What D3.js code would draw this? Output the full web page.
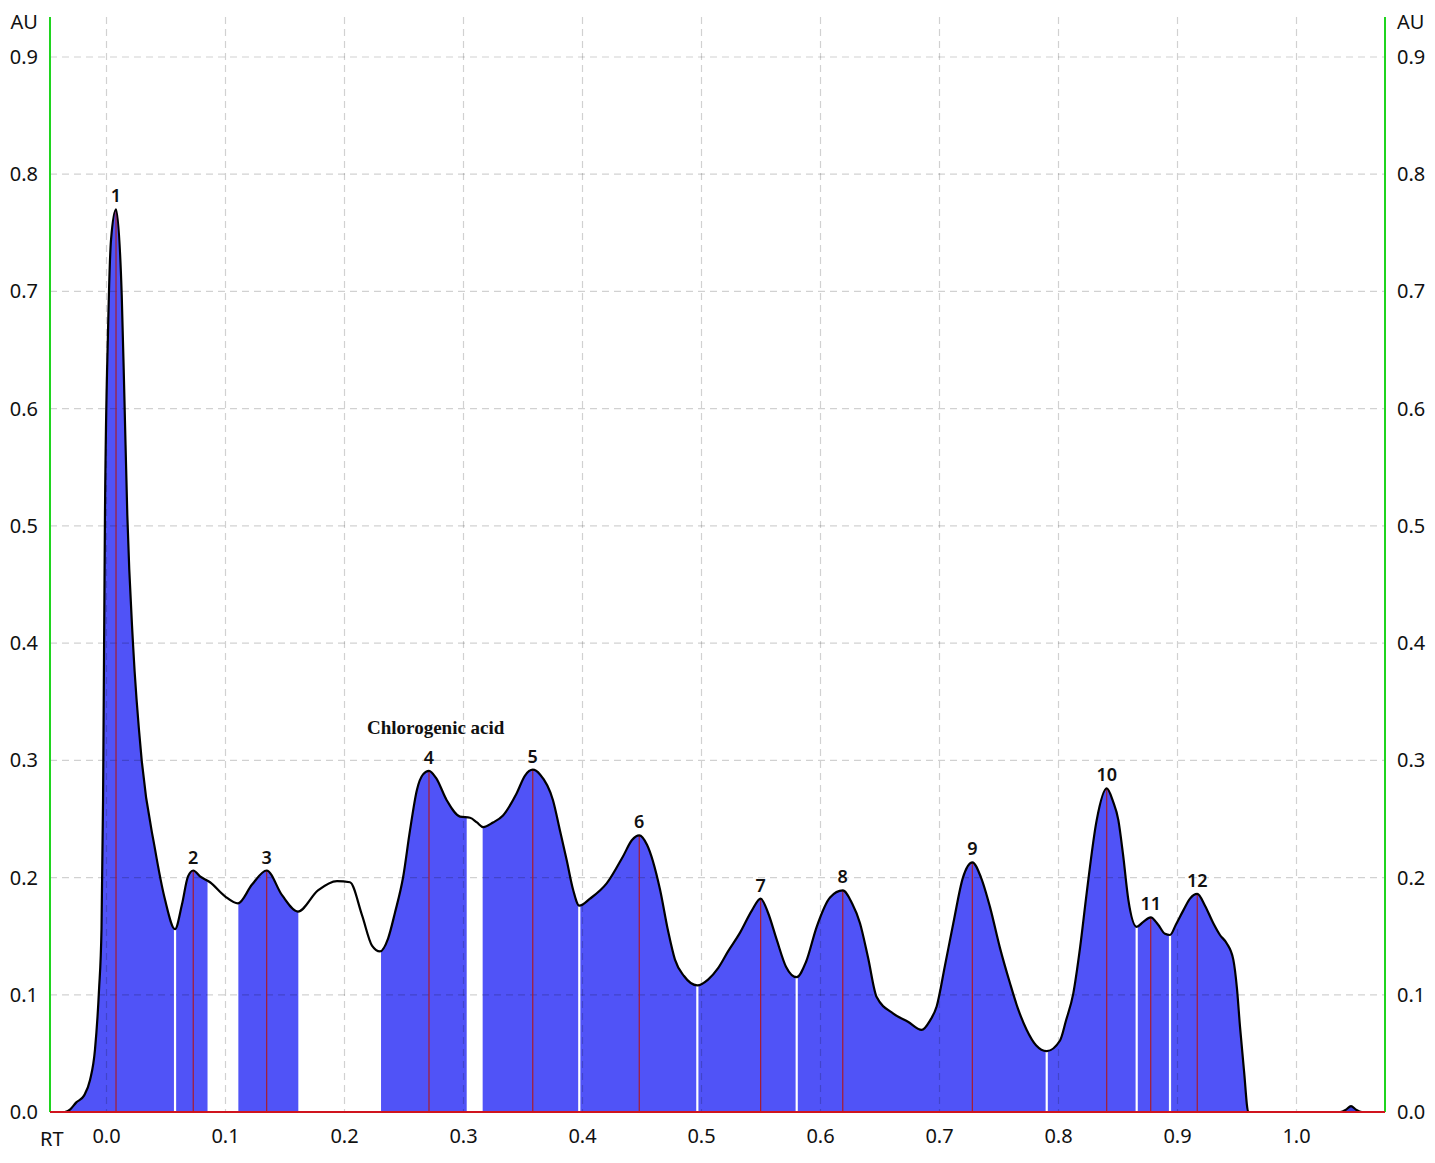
<!DOCTYPE html>
<html>
  <head>
    <meta charset="utf-8" />
    <title>HPLC chromatogram</title>
    <script src="https://d3js.org/d3.v7.min.js"></script>
    <style>
      body {
        margin: 0;
        background: #fff;
      }
      .tick-label {
        font: 20px "Noto Sans", sans-serif;
        fill: #111;
      }
      .peak-label {
        font: 600 18px "Noto Sans", sans-serif;
        fill: #111;
      }
      .compound {
        font: bold 19px "Liberation Serif", "Times New Roman", serif;
        fill: #111;
      }
    </style>
  </head>
  <body>
    <div id="chart"></div>

    <script>
      // Trace of the chromatogram (RT, AU)
      const rt = [
        -0.0349, -0.0307, -0.0256, -0.0189, -0.0139, -0.0097, -0.0063, -0.0042,
        -0.0029, -0.0013, 0.0013, 0.0038, 0.008, 0.0128, 0.0151, 0.0175, 0.0223,
        0.0296, 0.0408, 0.0492, 0.0576, 0.0634, 0.0685, 0.0729, 0.0786, 0.087,
        0.0996, 0.1105, 0.1223, 0.1346, 0.1475, 0.1609, 0.1777, 0.1937, 0.2046,
        0.2147, 0.2231, 0.2298, 0.2366, 0.2424, 0.2492, 0.255, 0.2609, 0.266,
        0.271, 0.2769, 0.2859, 0.2971, 0.3055, 0.3113, 0.3166, 0.3248, 0.3332,
        0.3447, 0.3517, 0.3582, 0.3643, 0.3752, 0.3811, 0.3867, 0.392, 0.3973,
        0.4063, 0.4203, 0.434, 0.4416, 0.4477, 0.4542, 0.4651, 0.4718, 0.4777,
        0.4853, 0.4965, 0.5055, 0.5141, 0.5223, 0.5324, 0.5424, 0.5497, 0.5559,
        0.5632, 0.571, 0.58, 0.5878, 0.5968, 0.608, 0.6187, 0.6265, 0.6332,
        0.6399, 0.6472, 0.6612, 0.6735, 0.685, 0.692, 0.6976, 0.7046, 0.7116,
        0.7197, 0.7276, 0.7349, 0.7424, 0.7508, 0.7592, 0.766, 0.7733, 0.7811,
        0.7901, 0.8013, 0.8063, 0.8124, 0.8181, 0.8237, 0.8321, 0.8405, 0.8458,
        0.8503, 0.8542, 0.8587, 0.8657, 0.871, 0.8775, 0.8836, 0.8895, 0.8937,
        0.8987, 0.9049, 0.9105, 0.9166, 0.9231, 0.9301, 0.9357, 0.9413, 0.9469,
        0.95, 0.9525, 0.9559, 0.9595, 1.0366, 1.0416, 1.0458, 1.05, 1.055, 1.0744,
      ];
      const au = [
        0, 0.002, 0.008, 0.014, 0.027, 0.053, 0.104, 0.156, 0.266, 0.509, 0.667,
        0.744, 0.77, 0.697, 0.607, 0.509, 0.399, 0.3, 0.224, 0.181, 0.156, 0.177,
        0.201, 0.206, 0.201, 0.196, 0.184, 0.178, 0.194, 0.206, 0.185, 0.171,
        0.189, 0.197, 0.196, 0.168, 0.142, 0.137, 0.148, 0.17, 0.2, 0.24, 0.275,
        0.288, 0.291, 0.285, 0.266, 0.252, 0.251, 0.247, 0.243, 0.247, 0.253,
        0.272, 0.287, 0.292, 0.288, 0.266, 0.24, 0.215, 0.19, 0.176, 0.182,
        0.195, 0.218, 0.232, 0.236, 0.228, 0.19, 0.155, 0.13, 0.116, 0.108,
        0.113, 0.123, 0.137, 0.153, 0.172, 0.182, 0.17, 0.147, 0.124, 0.115,
        0.128, 0.158, 0.183, 0.189, 0.178, 0.161, 0.132, 0.098, 0.084, 0.077,
        0.07, 0.078, 0.09, 0.125, 0.161, 0.2, 0.213, 0.2, 0.175, 0.14, 0.11,
        0.088, 0.07, 0.057, 0.052, 0.061, 0.078, 0.101, 0.14, 0.187, 0.249,
        0.276, 0.265, 0.249, 0.22, 0.181, 0.158, 0.162, 0.166, 0.16, 0.152,
        0.151, 0.16, 0.172, 0.182, 0.186, 0.176, 0.161, 0.151, 0.144, 0.13,
        0.105, 0.073, 0.035, 0, 0, 0.002, 0.005, 0.002, 0, 0,
      ];

      // Numbered peaks (red markers) and valley cuts (white markers)
      const peakRT = [
        0.008, 0.0729, 0.1346, 0.271, 0.3582, 0.4477, 0.5497, 0.6187, 0.7276,
        0.8405, 0.8775, 0.9166,
      ];
      const peakNames = ["1", "2", "3", "4", "5", "6", "7", "8", "9", "10", "11", "12"];
      const valleyRT = [0.0576, 0.3973, 0.4965, 0.58, 0.7901, 0.8657, 0.8937];

      // Integrated (filled) RT ranges
      const fillStart = [-0.0349, 0.1108, 0.2307, 0.3161];
      const fillEnd = [0.0849, 0.1612, 0.3027, 0.9595];

      const xTicks = [0, 0.1, 0.2, 0.3, 0.4, 0.5, 0.6, 0.7, 0.8, 0.9, 1.0];
      const yTicks = [0, 0.1, 0.2, 0.3, 0.4, 0.5, 0.6, 0.7, 0.8, 0.9];

      const compoundName = "Chlorogenic acid";

      // Dimensions
      const W = 1435,
        H = 1163;
      const plotLeft = 50,
        plotRight = 1385,
        plotTop = 17,
        plotBottom = 1112;

      const x = d3.scaleLinear().domain([0, 1]).range([106.5, 1296.5]);
      const y = d3.scaleLinear().domain([0, 0.9]).range([plotBottom, 57]);

      const svg = d3
        .select("#chart")
        .append("svg")
        .attr("width", W)
        .attr("height", H);

      const pts = rt.map((r, i) => [r, au[i]]);

      // value of the trace at a given RT (linear between read points)
      function valueAt(r) {
        const i = d3.bisectLeft(rt, r);
        if (i <= 0) return au[0];
        if (i >= rt.length) return au[au.length - 1];
        const t = (r - rt[i - 1]) / (rt[i] - rt[i - 1]);
        return au[i - 1] + t * (au[i] - au[i - 1]);
      }

      // Clip paths for filled segments
      const defs = svg.append("defs");
      const clip = defs.append("clipPath").attr("id", "fill-clip");
      fillStart.forEach((s, i) => {
        clip
          .append("rect")
          .attr("x", x(s))
          .attr("y", plotTop)
          .attr("width", x(fillEnd[i]) - x(s))
          .attr("height", plotBottom - plotTop);
      });

      const area = d3
        .area()
        .x((d) => x(d[0]))
        .y0(y(0))
        .y1((d) => y(d[1]))
        .curve(d3.curveMonotoneX);

      const line = d3
        .line()
        .x((d) => x(d[0]))
        .y((d) => y(d[1]))
        .curve(d3.curveMonotoneX);

      // Filled area
      svg
        .append("path")
        .attr("d", area(pts))
        .attr("fill", "#5053f7")
        .attr("clip-path", "url(#fill-clip)");

      // small bump at the end is filled too
      svg
        .append("path")
        .attr("d", area(pts.filter((d) => d[0] > 1.03)))
        .attr("fill", "#3b3fd8");

      // Grid (drawn over the fill, like the original)
      const grid = svg
        .append("g")
        .attr("stroke", "#000")
        .attr("stroke-opacity", 0.18)
        .attr("stroke-width", 1.2)
        .attr("stroke-dasharray", "7,5");

      grid
        .selectAll(".vgrid")
        .data(xTicks)
        .enter()
        .append("line")
        .attr("x1", (d) => x(d))
        .attr("x2", (d) => x(d))
        .attr("y1", plotTop)
        .attr("y2", plotBottom);

      grid
        .selectAll(".hgrid")
        .data(yTicks.filter((d) => d > 0))
        .enter()
        .append("line")
        .attr("x1", plotLeft)
        .attr("x2", plotRight)
        .attr("y1", (d) => y(d))
        .attr("y2", (d) => y(d));

      // Valley cuts
      svg
        .selectAll(".valley")
        .data(valleyRT)
        .enter()
        .append("line")
        .attr("x1", (d) => x(d))
        .attr("x2", (d) => x(d))
        .attr("y1", y(0))
        .attr("y2", (d) => y(valueAt(d)))
        .attr("stroke", "#fff")
        .attr("stroke-width", 2.2);

      // Peak markers
      svg
        .selectAll(".peak")
        .data(peakRT)
        .enter()
        .append("line")
        .attr("x1", (d) => x(d))
        .attr("x2", (d) => x(d))
        .attr("y1", y(0))
        .attr("y2", (d) => y(valueAt(d)))
        .attr("stroke", "#a81c2c")
        .attr("stroke-width", 1.2);

      // Trace
      svg
        .append("path")
        .attr("d", line(pts))
        .attr("fill", "none")
        .attr("stroke", "#000")
        .attr("stroke-width", 2.2)
        .attr("stroke-linejoin", "round");

      // Axes: green verticals, red baseline
      [plotLeft, plotRight].forEach((px) => {
        svg
          .append("line")
          .attr("x1", px)
          .attr("x2", px)
          .attr("y1", plotTop)
          .attr("y2", plotBottom)
          .attr("stroke", "#1fd41f")
          .attr("stroke-width", 2);
      });

      svg
        .append("line")
        .attr("x1", plotLeft)
        .attr("x2", plotRight)
        .attr("y1", y(0))
        .attr("y2", y(0))
        .attr("stroke", "#d0141e")
        .attr("stroke-width", 2.2);

      // Tick labels
      const fmt = d3.format(".1f");

      svg
        .selectAll(".ylab-l")
        .data(yTicks)
        .enter()
        .append("text")
        .attr("class", "tick-label")
        .attr("x", plotLeft - 12)
        .attr("y", (d) => y(d))
        .attr("dy", "0.35em")
        .attr("text-anchor", "end")
        .text(fmt);

      svg
        .selectAll(".ylab-r")
        .data(yTicks)
        .enter()
        .append("text")
        .attr("class", "tick-label")
        .attr("x", plotRight + 12)
        .attr("y", (d) => y(d))
        .attr("dy", "0.35em")
        .attr("text-anchor", "start")
        .text(fmt);

      svg
        .selectAll(".xlab")
        .data(xTicks)
        .enter()
        .append("text")
        .attr("class", "tick-label")
        .attr("x", (d) => x(d))
        .attr("y", plotBottom + 24)
        .attr("dy", "0.35em")
        .attr("text-anchor", "middle")
        .text(fmt);

      svg
        .append("text")
        .attr("class", "tick-label")
        .attr("x", plotLeft - 12)
        .attr("y", 22)
        .attr("dy", "0.35em")
        .attr("text-anchor", "end")
        .text("AU");

      svg
        .append("text")
        .attr("class", "tick-label")
        .attr("x", plotRight + 12)
        .attr("y", 22)
        .attr("dy", "0.35em")
        .text("AU");

      svg
        .append("text")
        .attr("class", "tick-label")
        .attr("x", plotLeft - 10)
        .attr("y", plotBottom + 27)
        .attr("dy", "0.35em")
        .text("RT");

      // Peak numbers
      svg
        .selectAll(".peak-label")
        .data(peakRT)
        .enter()
        .append("text")
        .attr("class", "peak-label")
        .attr("x", (d) => x(d))
        .attr("y", (d) => y(valueAt(d)) - 7)
        .attr("text-anchor", "middle")
        .text((d, i) => peakNames[i]);

      // Compound annotation over peak 4
      svg
        .append("text")
        .attr("class", "compound")
        .attr("x", x(peakRT[3]) - 62)
        .attr("y", y(valueAt(peakRT[3])) - 37)
        .text(compoundName);
    </script>
  </body>
</html>
